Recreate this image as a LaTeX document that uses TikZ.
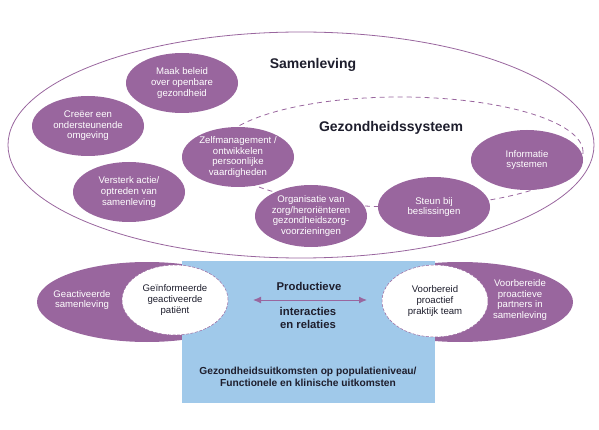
\documentclass[tikz,border=0pt]{standalone}
\usepackage{fontspec}
\setmainfont{Liberation Sans}
\usetikzlibrary{shapes.geometric,arrows.meta}
\definecolor{purp}{RGB}{153,102,158}
\definecolor{skyb}{RGB}{160,201,234}
\definecolor{ink}{RGB}{30,30,45}
\tikzset{
  pe/.style={ellipse, fill=purp, draw=none, text=white, align=center,
    font=\fontsize{9.6}{10.6}\selectfont, inner sep=0pt,
    minimum width=112pt, minimum height=60pt},
  we/.style={ellipse, fill=white, draw=purp, dash pattern=on 3pt off 1.5pt, line width=0.5pt,
    text=ink, align=center, font=\fontsize{9.6}{10.6}\selectfont, inner sep=0pt},
  be/.style={ellipse, fill=purp, draw=none, inner sep=0pt},
  ttl/.style={font=\fontsize{14}{16}\selectfont\bfseries, text=ink},
  btxt/.style={font=\fontsize{11.3}{13}\selectfont\bfseries, text=ink, align=center},
  wtxt/.style={text=white, align=center, font=\fontsize{9.6}{10.6}\selectfont},
}
\begin{document}
\begin{tikzpicture}[x=1pt,y=-1pt]
\useasboundingbox (0,0) rectangle (599,430);
% outer and dashed ellipses
\node[ellipse, draw=purp, line width=0.8pt, minimum width=586pt, minimum height=226pt, inner sep=0pt] (soc) at (301,145) {};
\node[ellipse, draw=purp, line width=0.8pt, dash pattern=on 5pt off 4pt, minimum width=366pt, minimum height=110pt, inner sep=0pt] (hs) at (400,152) {};
\node[ttl] (tsoc) at (313,65) {Samenleving};
\node[ttl] (ths) at (391,128) {Gezondheidssysteem};
% purple ellipses
\node[pe] (beleid) at (182,83) {Maak beleid\\over openbare\\gezondheid};
\node[pe] (omg) at (88,126) {Creëer een\\ondersteunende\\omgeving};
\node[pe] (actie) at (129,192) {Versterk actie/\\optreden van\\samenleving};
\node[pe] (zelf) at (238,157) {Zelfmanagement /\\ontwikkelen\\persoonlijke\\vaardigheden};
\node[pe, minimum height=62pt] (org) at (311,216) {Organisatie van\\zorg/heroriënteren\\gezondheidszorg-\\voorzieningen};
\node[pe] (steun) at (434,207) {Steun bij\\beslissingen};
\node[pe] (info) at (527,160) {Informatie\\systemen};
% bottom part
\node[be, minimum width=220pt, minimum height=80pt] (gsam) at (147,302) {};
\node[be, minimum width=226pt, minimum height=80pt] (vpart) at (460,302) {};
\node[fill=skyb, draw=none, anchor=north west, minimum width=253pt, minimum height=142pt, inner sep=0pt] (box) at (182,261) {};
\node[we, minimum width=106pt, minimum height=70pt] (pat) at (175,300) {Geïnformeerde\\geactiveerde\\patiënt};
\node[we, minimum width=106pt, minimum height=72pt] (team) at (435,301) {Voorbereid\\proactief\\praktijk team};
\node[wtxt] (tgsam) at (82,300) {Geactiveerde\\samenleving};
\node[wtxt] (tvpart) at (520,300) {Voorbereide\\proactieve\\partners in\\samenleving};
\coordinate (al) at (253,300);
\coordinate (ar) at (367,300);
\draw[purp, line width=1pt, {Latex[length=8pt,width=7pt]}-{Latex[length=8pt,width=7pt]}] (al) -- (ar);
\node[btxt] (prod) at (309,286) {Productieve};
\node[btxt] (inter) at (308,318) {interacties\\en relaties};
\node[btxt, font=\fontsize{10.2}{12.5}\selectfont\bfseries] (uitk) at (308,377) {Gezondheidsuitkomsten op populatieniveau/\\Functionele en klinische uitkomsten};
\end{tikzpicture}
\end{document}
